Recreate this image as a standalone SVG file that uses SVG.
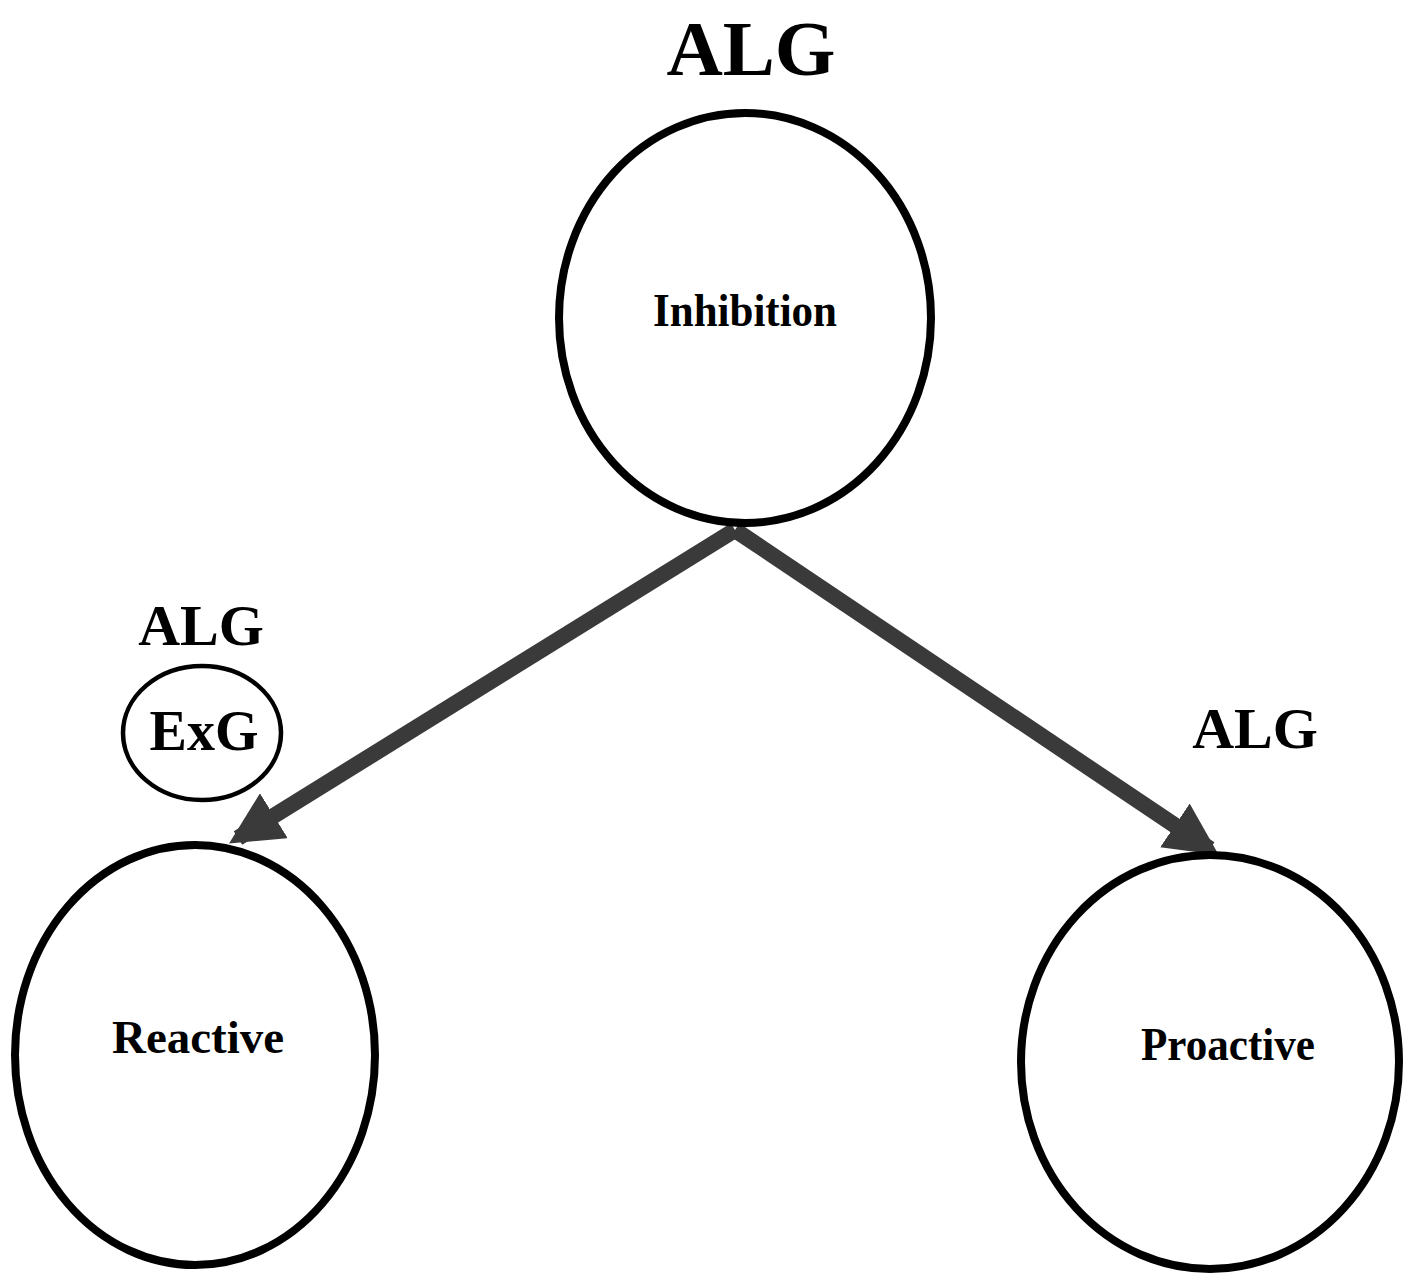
<svg xmlns="http://www.w3.org/2000/svg" width="1422" height="1284" viewBox="0 0 1422 1284">
<style>
.n{fill:none;stroke:#000;stroke-width:8}
.t{font-family:"Liberation Serif",serif;font-weight:bold;fill:#000;text-anchor:middle}
.c{stroke:#3a3a3a;stroke-width:16;fill:none}
</style>
<defs>
<marker id="ah" viewBox="0 0 10 10" refX="8" refY="5" markerWidth="3.3" markerHeight="3.3" orient="auto" markerUnits="strokeWidth">
<path d="M0,0 L10,5 L0,10 z" fill="#3a3a3a"/>
</marker>
</defs>
<rect width="1422" height="1284" fill="#fff"/>
<g id="connectors">
<path class="c" d="M735,530 L238,838" marker-end="url(#ah)"/>
<path class="c" d="M735,530 L1210,849" marker-end="url(#ah)"/>
</g>
<g id="inhibition">
<ellipse class="n" cx="745" cy="318" rx="186" ry="205"/>
<text class="t" x="745" y="326" font-size="46" textLength="184" lengthAdjust="spacingAndGlyphs">Inhibition</text>
<text class="t" x="751" y="75" font-size="78">ALG</text>
</g>
<g id="reactive">
<ellipse class="n" cx="195" cy="1055" rx="180" ry="210"/>
<text class="t" x="198" y="1053" font-size="46" textLength="172" lengthAdjust="spacingAndGlyphs">Reactive</text>
</g>
<g id="exg">
<ellipse cx="202" cy="733" rx="79" ry="67" fill="none" stroke="#000" stroke-width="4.5"/>
<text class="t" x="204" y="750" font-size="56">ExG</text>
<text class="t" x="201" y="645" font-size="58">ALG</text>
</g>
<g id="proactive">
<ellipse class="n" cx="1210" cy="1062" rx="189" ry="207"/>
<text class="t" x="1228" y="1060" font-size="46" textLength="174" lengthAdjust="spacingAndGlyphs">Proactive</text>
<text class="t" x="1255" y="748" font-size="58">ALG</text>
</g>
</svg>
